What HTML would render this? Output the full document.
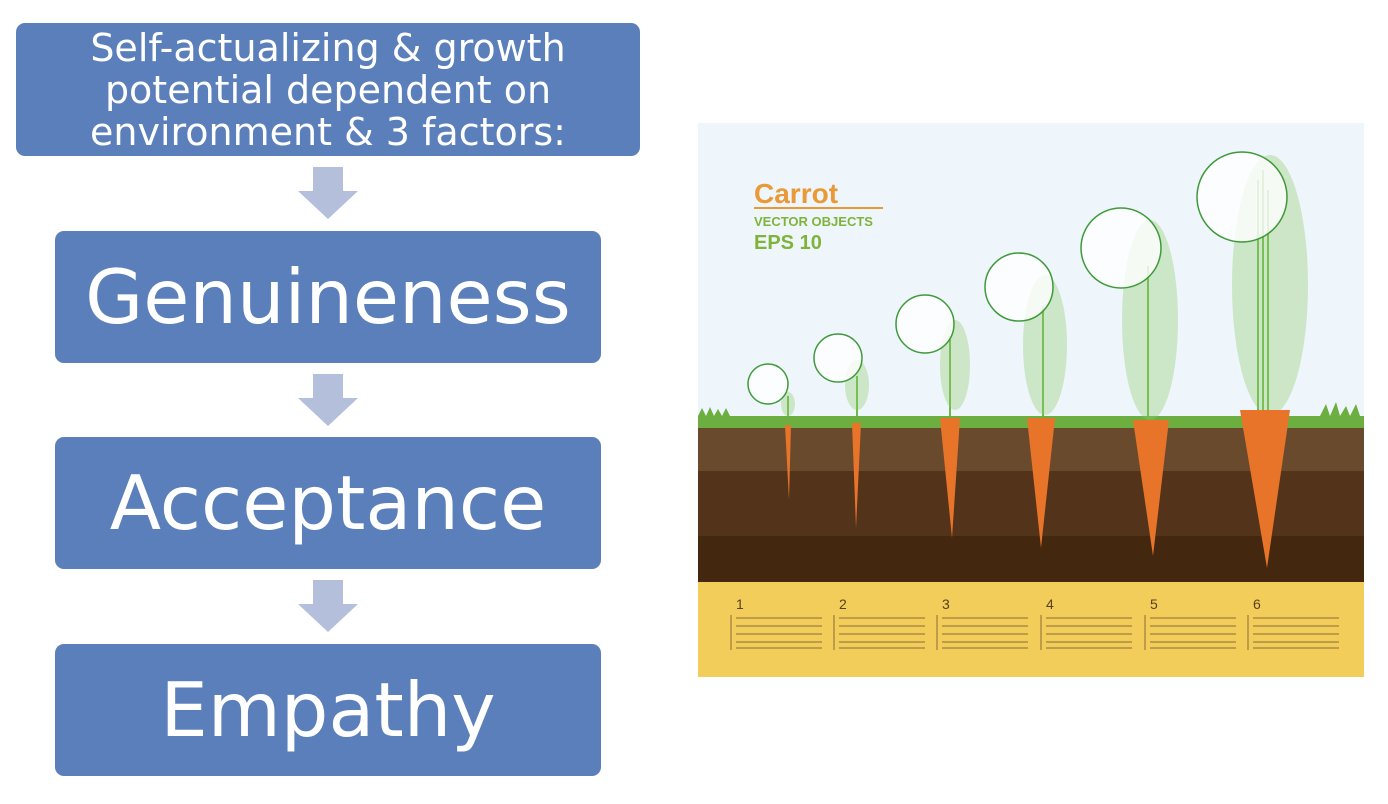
<!DOCTYPE html>
<html><head><style>
body{margin:0;width:1388px;height:804px;background:#fff;position:relative;overflow:hidden;font-family:"DejaVu Sans","Liberation Sans",sans-serif}
.b{position:absolute;background:#5b7fbb;border-radius:9px;color:#fff;text-align:center;display:flex;align-items:center;justify-content:center;white-space:nowrap}
.big{left:55px;width:546px;height:132px;font-size:75px}
.ar{position:absolute;left:298px;width:60px;height:52px}
</style></head><body>
<div class="b" style="left:16px;top:23px;width:624px;height:133px;font-size:38px;line-height:42px">Self-actualizing &amp; growth<br>potential dependent on<br>environment &amp; 3 factors:</div>
<svg class="ar" style="top:167px" viewBox="0 0 60 52"><polygon points="15,0 45,0 45,24 60,24 30,52 0,24 15,24" fill="#b3bfdb"/></svg>
<div class="b big" style="top:231px">Genuineness</div>
<svg class="ar" style="top:374px" viewBox="0 0 60 52"><polygon points="15,0 45,0 45,24 60,24 30,52 0,24 15,24" fill="#b3bfdb"/></svg>
<div class="b big" style="top:437px">Acceptance</div>
<svg class="ar" style="top:580px" viewBox="0 0 60 52"><polygon points="15,0 45,0 45,24 60,24 30,52 0,24 15,24" fill="#b3bfdb"/></svg>
<div class="b big" style="top:644px">Empathy</div>

<svg style="position:absolute;left:698px;top:123px" width="666" height="554" viewBox="698 123 666 554">
<rect x="698" y="123" width="666" height="554" fill="#eef5fb"/>
<rect x="698" y="427" width="666" height="44" fill="#6a4a2d"/>
<rect x="698" y="471" width="666" height="65" fill="#53331a"/>
<rect x="698" y="536" width="666" height="46" fill="#43270f"/>
<rect x="698" y="582" width="666" height="95" fill="#f2cd5a"/>
<rect x="698" y="416" width="666" height="12" fill="#6cae3f"/>
<path d="M698 416 l4 -8 l4 8 l4 -9 l4 9 l4 -7 l4 7 l4 -8 l4 8 M1320 416 l6 -12 l4 12 l6 -14 l4 14 l6 -10 l4 10 l6 -12 l4 12" fill="#6cae3f"/>
<g fill="none" stroke="#6fb84a" stroke-width="2">
<path d="M788 416 v-20"/><path d="M857 416 v-40"/><path d="M950 416 v-80"/><path d="M1043 416 v-110"/><path d="M1148 416 v-150"/><path d="M1258 410 v-230 M1268 410 v-220 M1263 410 v-240"/>
</g>
<g fill="#8fcc6a" opacity=".35">
<ellipse cx="788" cy="404" rx="7" ry="12"/><ellipse cx="857" cy="385" rx="12" ry="25"/><ellipse cx="955" cy="365" rx="15" ry="45"/><ellipse cx="1045" cy="345" rx="22" ry="70"/><ellipse cx="1150" cy="320" rx="28" ry="100"/><ellipse cx="1270" cy="285" rx="38" ry="130"/>
</g>
<g fill="#e8742a">
<path d="M785 425 h6 l-2 75 z"/><path d="M852 423 h9 l-5 105 z"/><path d="M940 418 h20 l-8 120 z"/><path d="M1027 418 h28 l-14 130 z"/><path d="M1133 420 h36 l-16 136 z"/><path d="M1240 410 h50 l-23 158 z"/>
</g>
<g fill="#fff" fill-opacity=".8" stroke="#3f9a3a" stroke-width="1.5">
<circle cx="768" cy="384" r="20"/><circle cx="838" cy="358" r="24"/><circle cx="925" cy="324" r="29"/><circle cx="1019" cy="287" r="34"/><circle cx="1121" cy="248" r="40"/><circle cx="1242" cy="197" r="45"/>
</g>
<text x="754" y="203" font-family="Liberation Sans" font-weight="bold" font-size="28" fill="#e99a36">Carrot</text>
<line x1="754" y1="208" x2="883" y2="208" stroke="#e99a36" stroke-width="2"/>
<text x="754" y="226" font-family="Liberation Sans" font-weight="bold" font-size="13" fill="#7fb43a">VECTOR OBJECTS</text>
<text x="754" y="249" font-family="Liberation Sans" font-weight="bold" font-size="20" fill="#7fb43a">EPS 10</text>
<g font-family="Liberation Sans" font-size="14" fill="#5a4020">
<text x="736" y="609">1</text><text x="839" y="609">2</text><text x="942" y="609">3</text><text x="1046" y="609">4</text><text x="1150" y="609">5</text><text x="1253" y="609">6</text>
</g>
<g stroke="#8a6a3a" stroke-width="1">
<path d="M731 615 v35 M834 615 v35 M937 615 v35 M1041 615 v35 M1145 615 v35 M1248 615 v35"/>
<path d="M736 618h86M736 626h86M736 634h86M736 642h86M736 648h86 M839 618h86M839 626h86M839 634h86M839 642h86M839 648h86 M942 618h86M942 626h86M942 634h86M942 642h86M942 648h86 M1046 618h86M1046 626h86M1046 634h86M1046 642h86M1046 648h86 M1150 618h86M1150 626h86M1150 634h86M1150 642h86M1150 648h86 M1253 618h86M1253 626h86M1253 634h86M1253 642h86M1253 648h86"/>
</g>
</svg>
</body></html>
